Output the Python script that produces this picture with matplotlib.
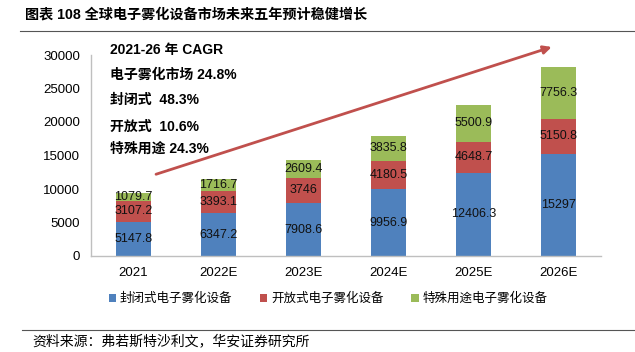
import matplotlib
matplotlib.use("Agg")
import matplotlib.pyplot as plt
from matplotlib.lines import Line2D
from matplotlib.patches import Patch
import numpy as np

plt.rcParams['font.family'] = ['Liberation Sans', 'Noto Sans CJK SC', 'DejaVu Sans']

years = ['2021', '2022E', '2023E', '2024E', '2025E', '2026E']
closed = [5147.8, 6347.2, 7908.6, 9956.9, 12406.3, 15297]
opened = [3107.2, 3393.1, 3746, 4180.5, 4648.7, 5150.8]
special = [1079.7, 1716.7, 2609.4, 3835.8, 5500.9, 7756.3]
series_names = ['封闭式电子雾化设备', '开放式电子雾化设备', '特殊用途电子雾化设备']
colors = ['#4F81BD', '#C0504D', '#9BBB59']
cagr_lines = ['2021-26 年 CAGR', '电子雾化市场 24.8%', '封闭式  48.3%', '开放式  10.6%', '特殊用途 24.3%']
yticks = [0, 5000, 10000, 15000, 20000, 25000, 30000]

fig = plt.figure(figsize=(6.35, 3.52), dpi=100)
ax = fig.add_axes([91/635, 1-256/352, 510/635, 201/352])

x = np.arange(len(years))
w = 0.42
bottom = np.zeros(len(years))
for vals, c, name in zip([closed, opened, special], colors, series_names):
    v = np.array(vals)
    ax.bar(x, v, w, bottom=bottom, color=c, label=name, zorder=2)
    for xi, b, vi in zip(x, bottom, v):
        ax.text(xi, b + vi/2, f'{vi:g}', ha='center', va='center', fontsize=9,
                color='#111111', zorder=3)
    bottom = bottom + v

ax.set_xlim(-0.5, len(years) - 0.5)
ax.set_ylim(0, 30000)
ax.set_yticks(yticks)
ax.set_yticklabels([str(t) for t in yticks], fontsize=9.5)
ax.set_xticks(x)
ax.set_xticklabels(years, fontsize=9.5)
ax.tick_params(axis='both', length=0, pad=8)
ax.tick_params(axis='y', pad=8)
for s in ['top', 'right']:
    ax.spines[s].set_visible(False)
for s in ['left', 'bottom']:
    ax.spines[s].set_color('#BFBFBF')
    ax.spines[s].set_linewidth(1)

# trend arrow
ax.annotate('', xy=(4.92, 31200), xytext=(0.265, 12200),
            arrowprops=dict(arrowstyle='-|>', color='#C0504D', lw=2,
                            mutation_scale=12, shrinkA=0, shrinkB=0),
            annotation_clip=False, zorder=4)

# CAGR text
ys = [50, 75, 100, 127, 149]
for t, yy in zip(cagr_lines, ys):
    fig.text(110/635, 1 - yy/352, t, fontsize=10, fontweight='bold',
             ha='left', va='center', color='black')

# title
fig.text(25/635, 1 - 15/352, '图表 108 全球电子雾化设备市场未来五年预计稳健增长',
         fontsize=10.2, fontweight='bold', ha='left', va='center')
fig.add_artist(Line2D([20/635, 1.0], [1 - 31/352, 1 - 31/352], color='#555555', lw=0.8))

# legend
handles = [Patch(facecolor=c, edgecolor='none') for c in colors]
fig.legend(handles, series_names, loc='center', bbox_to_anchor=(328/635, 1 - 299/352),
           ncol=3, frameon=False, fontsize=9, handlelength=0.6, handleheight=0.6,
           handletextpad=0.3, columnspacing=2.2)

# footer
fig.add_artist(Line2D([22/635, 1.0], [1 - 330/352, 1 - 330/352], color='#555555', lw=0.8))
fig.text(32/635, 1 - 341/352, '资料来源：弗若斯特沙利文，华安证券研究所', fontsize=10,
         ha='left', va='center')

fig.savefig('out.png', dpi=100)
